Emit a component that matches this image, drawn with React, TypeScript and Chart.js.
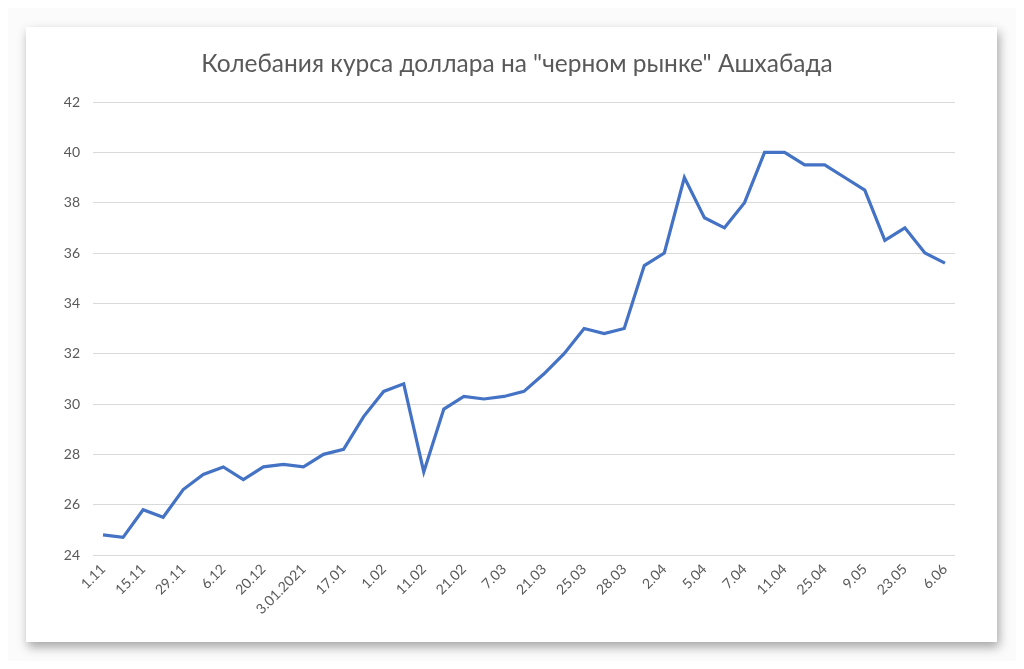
import React, { useEffect, useRef } from "react";
import { Chart, registerables } from "chart.js";

Chart.register(...registerables);

const TITLE = 'Колебания курса доллара на "черном рынке" Ашхабада';

// labels shown on every other category
const tickLabels = [
  "1.11", "15.11", "29.11", "6.12", "20.12", "3.01.2021", "17.01", "1.02", "11.02", "21.02", "7.03",
  "21.03", "25.03", "28.03", "2.04", "5.04", "7.04", "11.04", "25.04", "9.05", "23.05", "6.06",
];

const rates = [
  24.8, 24.7, 25.8, 25.5, 26.6, 27.2, 27.5, 27.0, 27.5, 27.6, 27.5, 28.0, 28.2, 29.5, 30.5, 30.8,
  27.3, 29.8, 30.3, 30.2, 30.3, 30.5, 31.2, 32.0, 33.0, 32.8, 33.0, 35.5, 36.0, 39.0, 37.4, 37.0,
  38.0, 40.0, 40.0, 39.5, 39.5, 39.0, 38.5, 36.5, 37.0, 36.0, 35.6,
];

const yMin = 24;
const yMax = 42;
const yStep = 2;

const categories: string[] = rates.map((_, i) => (i % 2 === 0 ? tickLabels[i / 2] ?? "" : ""));

const titlePlugin = {
  id: "cardTitle",
  afterDraw(chart: any) {
    const ctx = chart.ctx;
    ctx.save();
    ctx.font = "normal 24.5px Lato";
    ctx.fillStyle = "#595959";
    ctx.textAlign = "center";
    ctx.textBaseline = "middle";
    ctx.fillText(TITLE, 491, 37);
    ctx.restore();
  },
};

export default function App() {
  const ref = useRef<HTMLCanvasElement | null>(null);

  useEffect(() => {
    if (!ref.current) return;
    const chart = new Chart(ref.current, {
      type: "line",
      data: {
        labels: categories,
        datasets: [
          {
            data: rates,
            borderColor: "#4472c4",
            borderWidth: 3.2,
            pointRadius: 0,
            tension: 0,
            fill: false,
          },
        ],
      },
      plugins: [titlePlugin],
      options: {
        animation: false,
        responsive: false,
        layout: { padding: { left: 0, right: 42, top: 75, bottom: 0 } },
        plugins: {
          legend: { display: false },
          tooltip: { enabled: false },
          title: { display: false },
        },
        scales: {
          x: {
            offset: true,
            grid: { display: false, drawTicks: false },
            border: { display: false },
            ticks: {
              autoSkip: false,
              maxRotation: 45,
              minRotation: 45,
              color: "#595959",
              font: { family: "Lato", size: 14 },
              padding: 6,
            },
            afterFit: (s: any) => {
              s.height = 87;
            },
          },
          y: {
            min: yMin,
            max: yMax,
            ticks: {
              stepSize: yStep,
              color: "#595959",
              font: { family: "Lato", size: 14 },
              padding: 13,
            },
            grid: { color: "#d9d9d9", lineWidth: 1, drawTicks: false },
            border: { display: false },
            afterFit: (s: any) => {
              s.width = 67;
            },
          },
        },
      },
    });
    return () => chart.destroy();
  }, []);

  return (
    <div style={{ position: "relative", width: 1008, height: 653, background: "#fbfbfb" }}>
      <div
        style={{
          position: "absolute",
          left: 18,
          top: 19,
          width: 971,
          height: 615,
          background: "#ffffff",
          boxShadow: "2px 5px 10px rgba(0,0,0,0.35)",
        }}
      >
        <canvas ref={ref} width={971} height={615} style={{ display: "block" }} />
      </div>
    </div>
  );
}
